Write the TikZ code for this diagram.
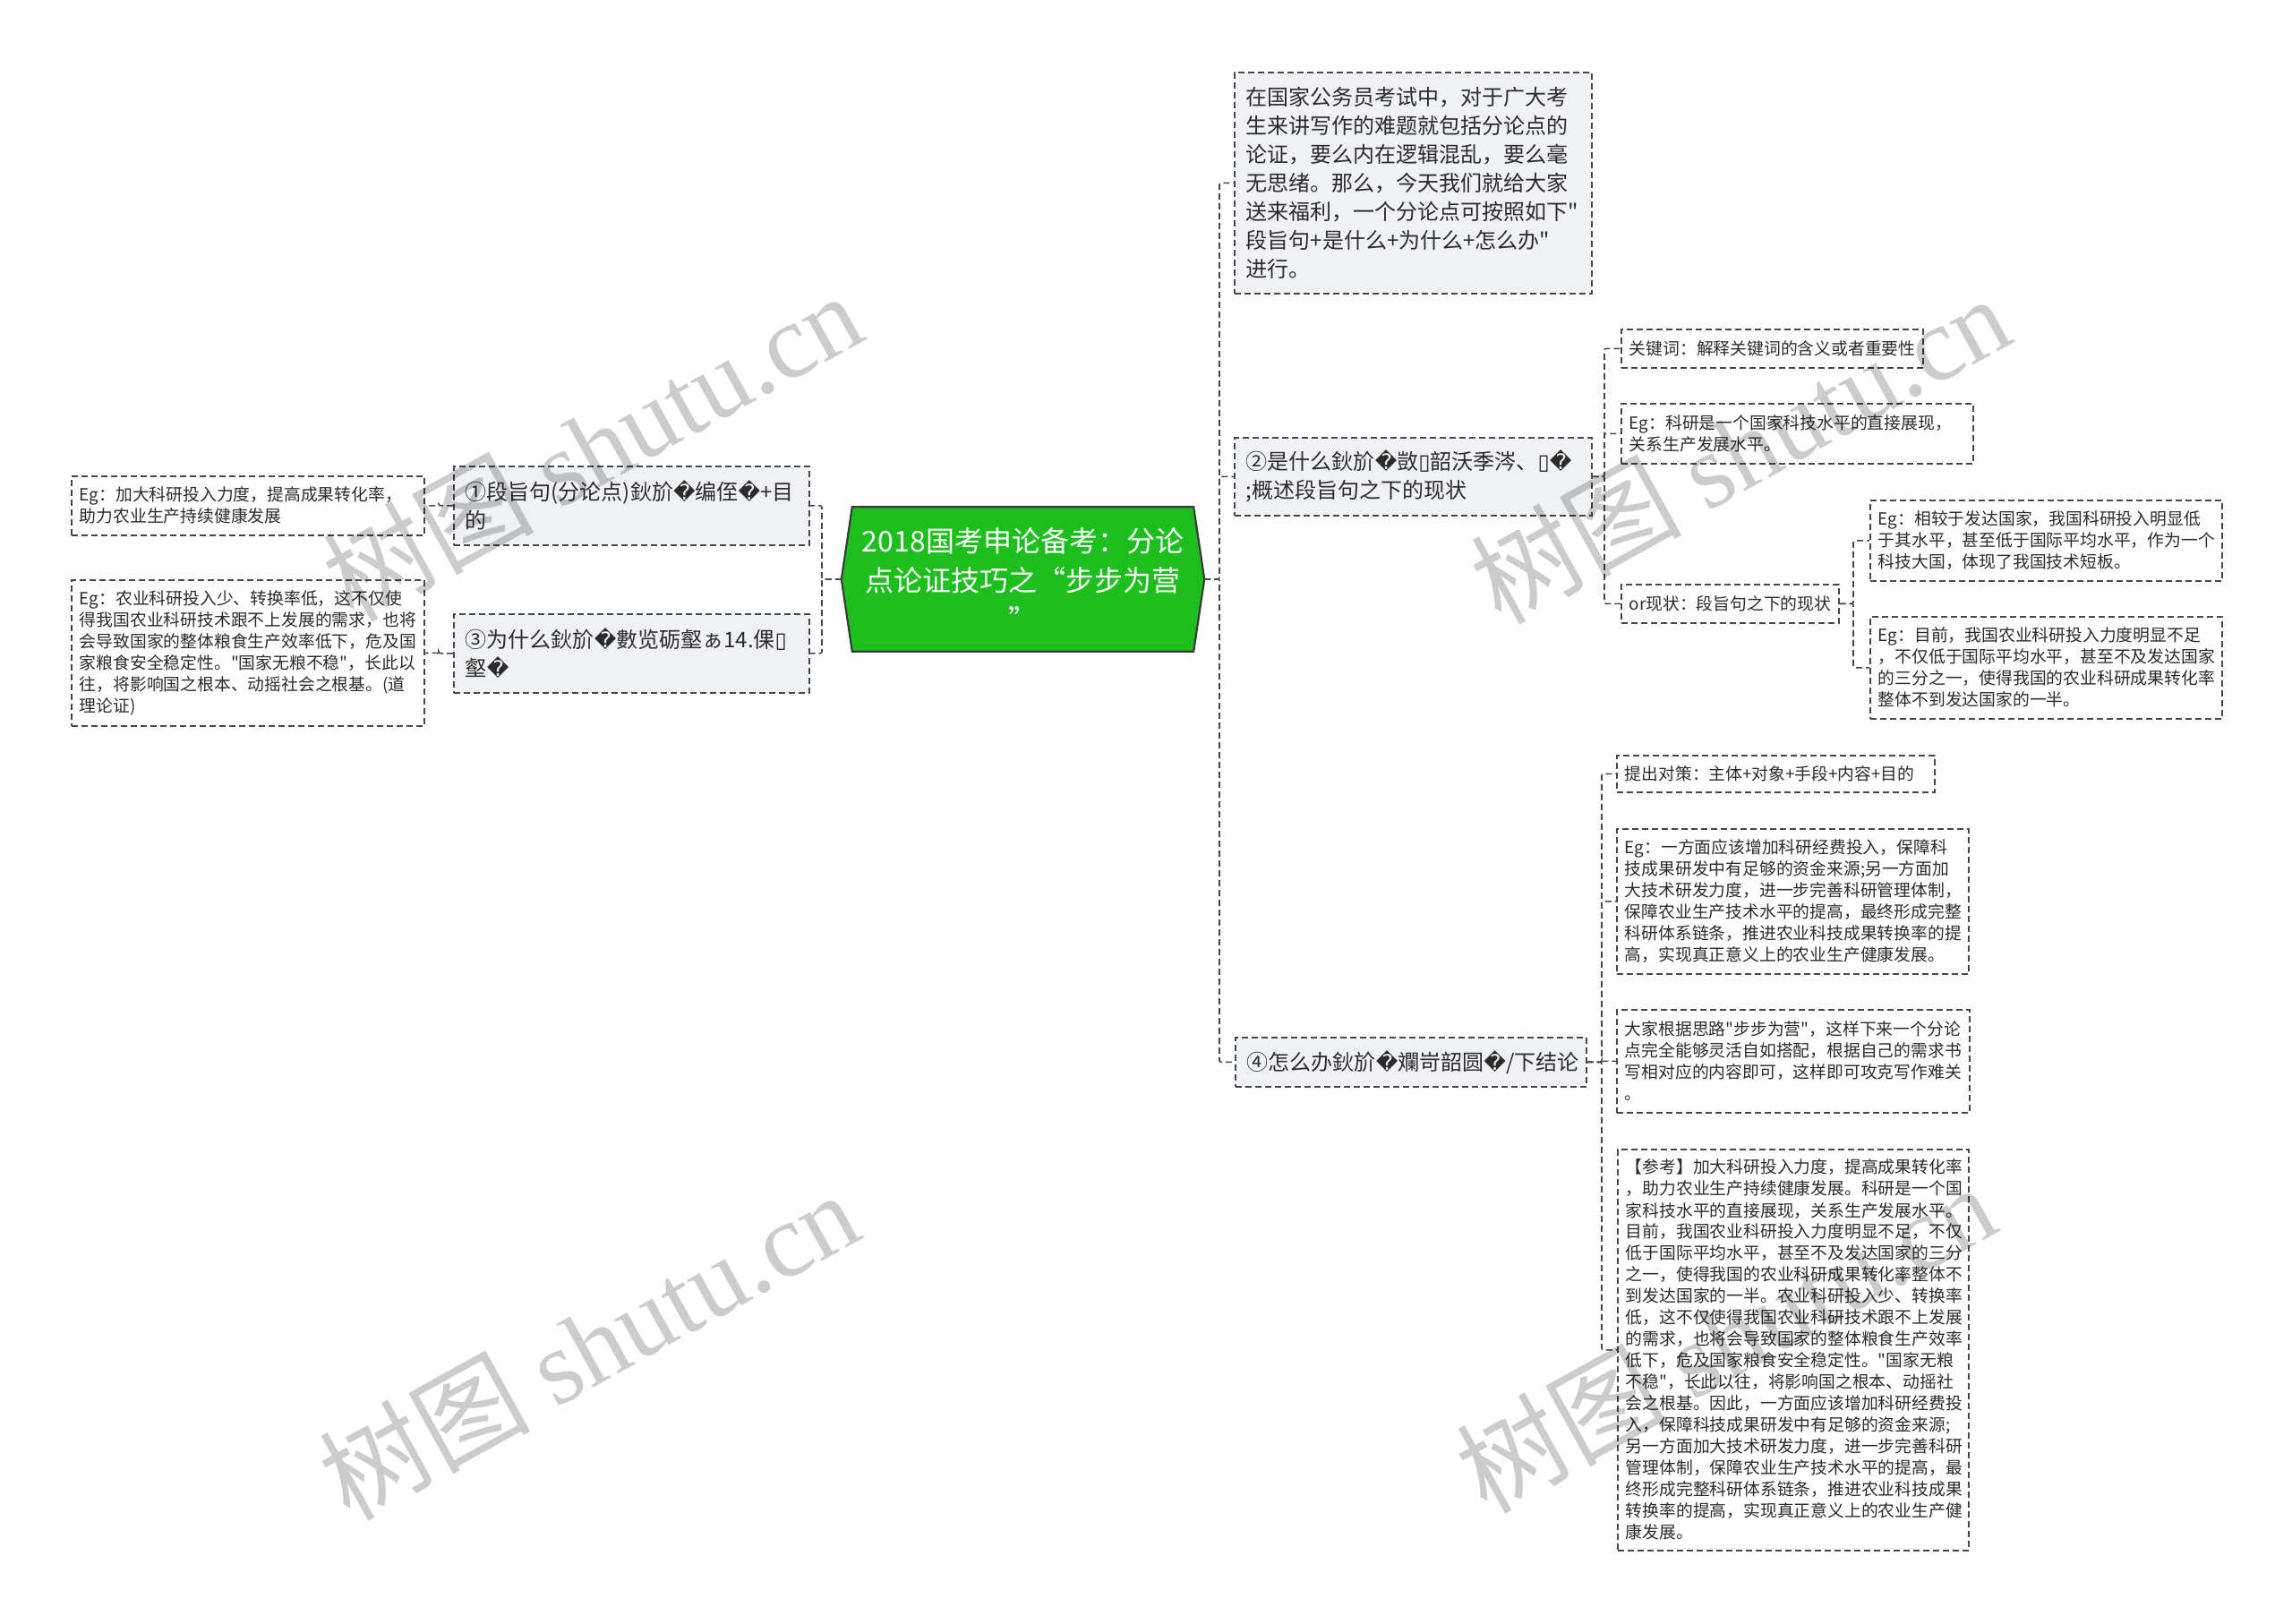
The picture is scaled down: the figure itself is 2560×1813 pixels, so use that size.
\documentclass[tikz,border=0pt]{standalone}
\usepackage{fontspec}
\setmainfont{Noto Sans CJK SC}
\newfontfamily\cjkf{Noto Sans CJK SC}
\newfontfamily\dvfont{DejaVu Sans}
\newfontfamily\wmfont{Liberation Serif}
\usetikzlibrary{backgrounds}
\newcommand{\rpl}{{\dvfont\char"FFFD}}
\newcommand{\nbox}{{\dvfont\char"25AF}}
\definecolor{rootgreen}{HTML}{1DBF1D}
\definecolor{rootline}{HTML}{3A3A3A}
\definecolor{fillone}{HTML}{EFF1F4}
\definecolor{linec}{HTML}{474747}
\definecolor{txt}{HTML}{2B2B2B}
\tikzset{
  lvone/.style={draw=linec, line width=1.6pt, dash pattern=on 7pt off 4pt, fill=fillone, text=txt,
    font=\cjkf\fontsize{24}{32}\selectfont, align=left, inner xsep=13pt, inner ysep=0pt, anchor=north west},
  lvtwo/.style={draw=linec, line width=1.6pt, dash pattern=on 7pt off 4pt, fill=white, text=txt,
    font=\cjkf\fontsize{18.8}{24}\selectfont, align=left, inner xsep=9pt, inner ysep=0pt, anchor=north west},
  conn/.style={draw=linec, line width=1.6pt, dash pattern=on 7pt off 4pt, rounded corners=2pt},
  wmark/.style={font=\cjkf\fontsize{118}{118}\selectfont, text=black, text opacity=0.2, rotate=29, inner sep=0pt}
}
\begin{document}
\begin{tikzpicture}[x=1pt,y=-1pt]
\useasboundingbox (0,0) rectangle (2560,1813);

% trunk coordinates
\coordinate (tR) at (1362,0);
\coordinate (tL) at (918,0);
\coordinate (tLL) at (490,0);
\coordinate (tB) at (1792,0);
\coordinate (tC) at (2070,0);
\coordinate (tD) at (1789,0);

% root
\node[minimum width=405pt, minimum height=161pt, inner sep=0pt, text width=395pt, align=center,
  text=white, font=\cjkf\fontsize{32}{44}\selectfont] (root) at (1142.5,647)
  {2018国考申论备考：分论\\点论证技巧之“步步为营\\”};
\begin{scope}[on background layer]
\fill[white] (0,0) rectangle (2560,1813);
\filldraw[fill=rootgreen, draw=rootline, line width=2.2pt, line join=miter]
  (root.west) -- ([xshift=12pt]root.north west) -- ([xshift=-12pt]root.north east)
  -- (root.east) -- ([xshift=-12pt]root.south east) -- ([xshift=12pt]root.south west) -- cycle;
\end{scope}

% level one right
\node[lvone, text width=373pt, minimum height=247pt] (intro) at (1378,80)
 {在国家公务员考试中，对于广大考\\生来讲写作的难题就包括分论点的\\论证，要么内在逻辑混乱，要么毫\\无思绪。那么，今天我们就给大家\\送来福利，一个分论点可按照如下"\\段旨句+是什么+为什么+怎么办"\\进行。};
\node[lvone, text width=373pt, minimum height=87pt] (n2) at (1378,488)
 {②是什么鈥斺\rpl 敳\nbox 韶沃季涔、\nbox\rpl\\;概述段旨句之下的现状};
\node[lvone, text width=366pt, minimum height=55pt] (n4) at (1379,1158)
 {④怎么办鈥斺\rpl 斕岢韶圆\rpl /下结论};

% level one left
\node[lvone, text width=371pt, minimum height=88pt] (n1) at (506,520)
 {①段旨句(分论点)鈥斺\rpl 编侄\rpl +目\\的};
\node[lvone, text width=371pt, minimum height=88pt] (n3) at (506,685)
 {③为什么鈥斺\rpl 數览砺壑ぁ14.倮\nbox\\壑\rpl};

% level two left
\node[lvtwo, text width=376pt, minimum height=66pt] (e1) at (79,531)
 {Eg：加大科研投入力度，提高成果转化率，\\助力农业生产持续健康发展};
\node[lvtwo, text width=376pt, minimum height=163pt] (e2) at (79,647)
 {Eg：农业科研投入少、转换率低，这不仅使\\得我国农业科研技术跟不上发展的需求，也将\\会导致国家的整体粮食生产效率低下，危及国\\家粮食安全稳定性。"国家无粮不稳"，长此以\\往，将影响国之根本、动摇社会之根基。(道\\理论证)};

% children of n2
\node[lvtwo, text width=319pt, minimum height=43pt] (k1) at (1810,367)
 {关键词：解释关键词的含义或者重要性};
\node[lvtwo, text width=375pt, minimum height=67pt] (k2) at (1810,450)
 {Eg：科研是一个国家科技水平的直接展现，\\关系生产发展水平。};
\node[lvtwo, text width=225pt, minimum height=43pt] (k3) at (1810,652)
 {or现状：段旨句之下的现状};
\node[lvtwo, text width=375pt, minimum height=90pt] (k4) at (2088,558)
 {Eg：相较于发达国家，我国科研投入明显低\\于其水平，甚至低于国际平均水平，作为一个\\科技大国，体现了我国技术短板。};
\node[lvtwo, text width=375pt, minimum height=114pt] (k5) at (2088,688)
 {Eg：目前，我国农业科研投入力度明显不足\\，不仅低于国际平均水平，甚至不及发达国家\\的三分之一，使得我国的农业科研成果转化率\\整体不到发达国家的一半。};

% children of n4
\node[lvtwo, text width=337pt, minimum height=41pt] (m1) at (1805,843)
 {提出对策：主体+对象+手段+内容+目的};
\node[lvtwo, text width=375pt, minimum height=162pt] (m2) at (1805,925)
 {Eg：一方面应该增加科研经费投入，保障科\\技成果研发中有足够的资金来源;另一方面加\\大技术研发力度，进一步完善科研管理体制，\\保障农业生产技术水平的提高，最终形成完整\\科研体系链条，推进农业科技成果转换率的提\\高，实现真正意义上的农业生产健康发展。};
\node[lvtwo, text width=376pt, minimum height=115pt] (m3) at (1805,1127)
 {大家根据思路"步步为营"，这样下来一个分论\\点完全能够灵活自如搭配，根据自己的需求书\\写相对应的内容即可，这样即可攻克写作难关\\。};
\node[lvtwo, text width=374pt, minimum height=448pt] (m4) at (1806,1283)
 {【参考】加大科研投入力度，提高成果转化率\\，助力农业生产持续健康发展。科研是一个国\\家科技水平的直接展现，关系生产发展水平。\\目前，我国农业科研投入力度明显不足，不仅\\低于国际平均水平，甚至不及发达国家的三分\\之一，使得我国的农业科研成果转化率整体不\\到发达国家的一半。农业科研投入少、转换率\\低，这不仅使得我国农业科研技术跟不上发展\\的需求，也将会导致国家的整体粮食生产效率\\低下，危及国家粮食安全稳定性。"国家无粮\\不稳"，长此以往，将影响国之根本、动摇社\\会之根基。因此，一方面应该增加科研经费投\\入，保障科技成果研发中有足够的资金来源;\\另一方面加大技术研发力度，进一步完善科研\\管理体制，保障农业生产技术水平的提高，最\\终形成完整科研体系链条，推进农业科技成果\\转换率的提高，实现真正意义上的农业生产健\\康发展。};

% connectors right of root
\draw[conn] (root.east) -- (root.east -| tR) |- (intro.west);
\draw[conn] (root.east) -- (root.east -| tR) |- (n2.west);
\draw[conn] (root.east) -- (root.east -| tR) |- (n4.west);
% connectors left of root
\draw[conn] (root.west) -- (root.west -| tL) |- (n1.east);
\draw[conn] (root.west) -- (root.west -| tL) |- (n3.east);
\draw[conn] (n1.west) -- (n1.west -| tLL) |- (e1.east);
\draw[conn] (n3.west) -- (n3.west -| tLL) |- (e2.east);
% n2 children
\draw[conn] (n2.east) -- (n2.east -| tB) |- (k1.west);
\draw[conn] (n2.east) -- (n2.east -| tB) |- (k2.west);
\draw[conn] (n2.east) -- (n2.east -| tB) |- (k3.west);
\draw[conn] (k3.east) -- (k3.east -| tC) |- (k4.west);
\draw[conn] (k3.east) -- (k3.east -| tC) |- (k5.west);
% n4 children
\draw[conn] (n4.east) -- (n4.east -| tD) |- (m1.west);
\draw[conn] (n4.east) -- (n4.east -| tD) |- (m2.west);
\draw[conn] (n4.east) -- (n4.east -| tD) |- (m3.west);
\draw[conn] (n4.east) -- (n4.east -| tD) |- (m4.west);

% watermarks
\node[wmark] (wm1) at (661,498) {树图 {\wmfont shutu.cn}};
\node[wmark] (wm2) at (657,1502) {树图 {\wmfont shutu.cn}};
\node[wmark] (wm3) at (1943,501) {树图 {\wmfont shutu.cn}};
\node[wmark] (wm4) at (1927,1494) {树图 {\wmfont shutu.cn}};
\end{tikzpicture}
\end{document}
